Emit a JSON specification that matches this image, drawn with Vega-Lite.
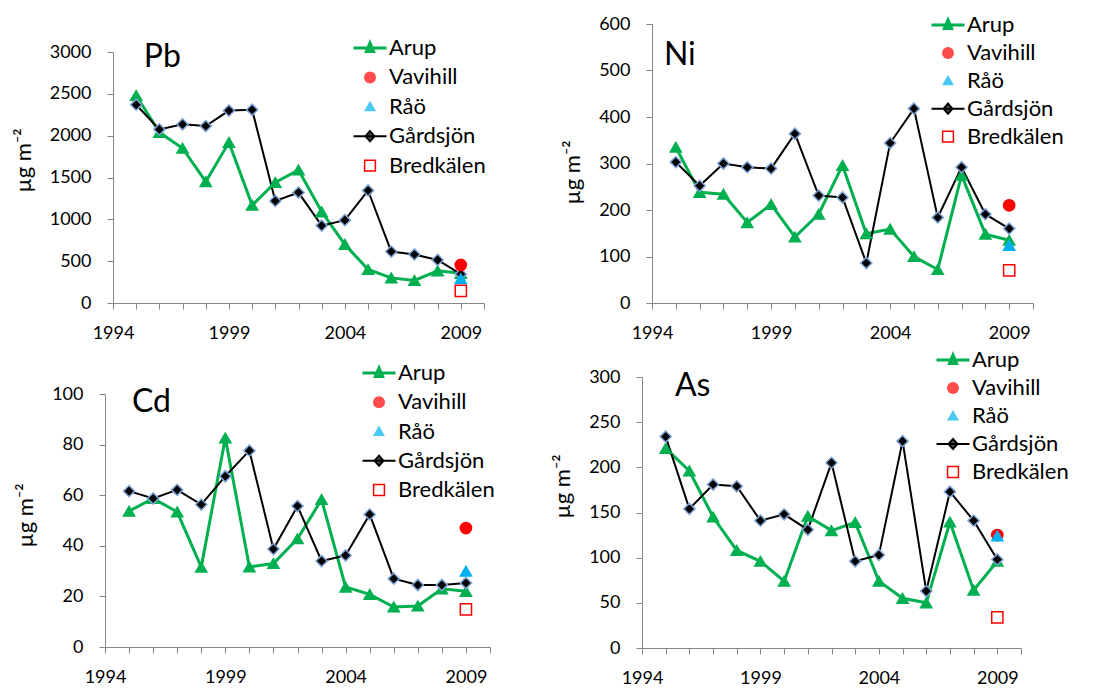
{
  "$schema": "https://vega.github.io/schema/vega-lite/v6.json",
  "padding": {"left": 12, "top": 14, "right": 5, "bottom": 5},
  "background": "white",
  "datasets": {
    "Pb": [
      {"site": "Arup", "year": 1995, "value": 2480}, {"site": "Arup", "year": 1996, "value": 2040}, {"site": "Arup", "year": 1997, "value": 1850}, {"site": "Arup", "year": 1998, "value": 1450}, {"site": "Arup", "year": 1999, "value": 1920}, {"site": "Arup", "year": 2000, "value": 1170}, {"site": "Arup", "year": 2001, "value": 1440}, {"site": "Arup", "year": 2002, "value": 1590}, {"site": "Arup", "year": 2003, "value": 1090}, {"site": "Arup", "year": 2004, "value": 700}, {"site": "Arup", "year": 2005, "value": 400}, {"site": "Arup", "year": 2006, "value": 300}, {"site": "Arup", "year": 2007, "value": 270}, {"site": "Arup", "year": 2008, "value": 385}, {"site": "Arup", "year": 2009, "value": 355},
      {"site": "Gårdsjön", "year": 1995, "value": 2370}, {"site": "Gårdsjön", "year": 1996, "value": 2075}, {"site": "Gårdsjön", "year": 1997, "value": 2135}, {"site": "Gårdsjön", "year": 1998, "value": 2115}, {"site": "Gårdsjön", "year": 1999, "value": 2300}, {"site": "Gårdsjön", "year": 2000, "value": 2310}, {"site": "Gårdsjön", "year": 2001, "value": 1220}, {"site": "Gårdsjön", "year": 2002, "value": 1320}, {"site": "Gårdsjön", "year": 2003, "value": 925}, {"site": "Gårdsjön", "year": 2004, "value": 990}, {"site": "Gårdsjön", "year": 2005, "value": 1345}, {"site": "Gårdsjön", "year": 2006, "value": 615}, {"site": "Gårdsjön", "year": 2007, "value": 580}, {"site": "Gårdsjön", "year": 2008, "value": 515}, {"site": "Gårdsjön", "year": 2009, "value": 345},
      {"site": "Vavihill", "year": 2009, "value": 455}, {"site": "Råö", "year": 2009, "value": 290}, {"site": "Bredkälen", "year": 2009, "value": 145}
    ],
    "Ni": [
      {"site": "Arup", "year": 1995, "value": 335}, {"site": "Arup", "year": 1996, "value": 238}, {"site": "Arup", "year": 1997, "value": 234}, {"site": "Arup", "year": 1998, "value": 173}, {"site": "Arup", "year": 1999, "value": 212}, {"site": "Arup", "year": 2000, "value": 142}, {"site": "Arup", "year": 2001, "value": 191}, {"site": "Arup", "year": 2002, "value": 296}, {"site": "Arup", "year": 2003, "value": 149}, {"site": "Arup", "year": 2004, "value": 159}, {"site": "Arup", "year": 2005, "value": 100}, {"site": "Arup", "year": 2006, "value": 72}, {"site": "Arup", "year": 2007, "value": 275}, {"site": "Arup", "year": 2008, "value": 148}, {"site": "Arup", "year": 2009, "value": 135},
      {"site": "Gårdsjön", "year": 1995, "value": 303}, {"site": "Gårdsjön", "year": 1996, "value": 252}, {"site": "Gårdsjön", "year": 1997, "value": 300}, {"site": "Gårdsjön", "year": 1998, "value": 292}, {"site": "Gårdsjön", "year": 1999, "value": 289}, {"site": "Gårdsjön", "year": 2000, "value": 364}, {"site": "Gårdsjön", "year": 2001, "value": 231}, {"site": "Gårdsjön", "year": 2002, "value": 227}, {"site": "Gårdsjön", "year": 2003, "value": 86}, {"site": "Gårdsjön", "year": 2004, "value": 344}, {"site": "Gårdsjön", "year": 2005, "value": 418}, {"site": "Gårdsjön", "year": 2006, "value": 184}, {"site": "Gårdsjön", "year": 2007, "value": 292}, {"site": "Gårdsjön", "year": 2008, "value": 191}, {"site": "Gårdsjön", "year": 2009, "value": 160},
      {"site": "Vavihill", "year": 2009, "value": 210}, {"site": "Råö", "year": 2009, "value": 124}, {"site": "Bredkälen", "year": 2009, "value": 70}
    ],
    "Cd": [
      {"site": "Arup", "year": 1995, "value": 53.7}, {"site": "Arup", "year": 1996, "value": 58.7}, {"site": "Arup", "year": 1997, "value": 53.4}, {"site": "Arup", "year": 1998, "value": 31.6}, {"site": "Arup", "year": 1999, "value": 82.6}, {"site": "Arup", "year": 2000, "value": 31.7}, {"site": "Arup", "year": 2001, "value": 33.0}, {"site": "Arup", "year": 2002, "value": 42.8}, {"site": "Arup", "year": 2003, "value": 58.3}, {"site": "Arup", "year": 2004, "value": 23.7}, {"site": "Arup", "year": 2005, "value": 20.8}, {"site": "Arup", "year": 2006, "value": 15.8}, {"site": "Arup", "year": 2007, "value": 16.2}, {"site": "Arup", "year": 2008, "value": 23.0}, {"site": "Arup", "year": 2009, "value": 22.0},
      {"site": "Gårdsjön", "year": 1995, "value": 61.6}, {"site": "Gårdsjön", "year": 1996, "value": 58.7}, {"site": "Gårdsjön", "year": 1997, "value": 62.1}, {"site": "Gårdsjön", "year": 1998, "value": 56.3}, {"site": "Gårdsjön", "year": 1999, "value": 67.5}, {"site": "Gårdsjön", "year": 2000, "value": 77.6}, {"site": "Gårdsjön", "year": 2001, "value": 38.7}, {"site": "Gårdsjön", "year": 2002, "value": 55.7}, {"site": "Gårdsjön", "year": 2003, "value": 34.0}, {"site": "Gårdsjön", "year": 2004, "value": 36.2}, {"site": "Gårdsjön", "year": 2005, "value": 52.4}, {"site": "Gårdsjön", "year": 2006, "value": 27.0}, {"site": "Gårdsjön", "year": 2007, "value": 24.5}, {"site": "Gårdsjön", "year": 2008, "value": 24.5}, {"site": "Gårdsjön", "year": 2009, "value": 25.3},
      {"site": "Vavihill", "year": 2009, "value": 47.0}, {"site": "Råö", "year": 2009, "value": 30.0}, {"site": "Bredkälen", "year": 2009, "value": 14.9}
    ],
    "As": [
      {"site": "Arup", "year": 1995, "value": 221}, {"site": "Arup", "year": 1996, "value": 196}, {"site": "Arup", "year": 1997, "value": 145}, {"site": "Arup", "year": 1998, "value": 108}, {"site": "Arup", "year": 1999, "value": 96}, {"site": "Arup", "year": 2000, "value": 74}, {"site": "Arup", "year": 2001, "value": 146}, {"site": "Arup", "year": 2002, "value": 130}, {"site": "Arup", "year": 2003, "value": 139}, {"site": "Arup", "year": 2004, "value": 74}, {"site": "Arup", "year": 2005, "value": 55}, {"site": "Arup", "year": 2006, "value": 50}, {"site": "Arup", "year": 2007, "value": 139.5}, {"site": "Arup", "year": 2008, "value": 64}, {"site": "Arup", "year": 2009, "value": 96},
      {"site": "Gårdsjön", "year": 1995, "value": 234}, {"site": "Gårdsjön", "year": 1996, "value": 154}, {"site": "Gårdsjön", "year": 1997, "value": 181}, {"site": "Gårdsjön", "year": 1998, "value": 179}, {"site": "Gårdsjön", "year": 1999, "value": 141}, {"site": "Gårdsjön", "year": 2000, "value": 148}, {"site": "Gårdsjön", "year": 2001, "value": 131}, {"site": "Gårdsjön", "year": 2002, "value": 205}, {"site": "Gårdsjön", "year": 2003, "value": 96}, {"site": "Gårdsjön", "year": 2004, "value": 103}, {"site": "Gårdsjön", "year": 2005, "value": 229}, {"site": "Gårdsjön", "year": 2006, "value": 63}, {"site": "Gårdsjön", "year": 2007, "value": 173}, {"site": "Gårdsjön", "year": 2008, "value": 141}, {"site": "Gårdsjön", "year": 2009, "value": 98},
      {"site": "Vavihill", "year": 2009, "value": 125}, {"site": "Råö", "year": 2009, "value": 124}, {"site": "Bredkälen", "year": 2009, "value": 34}
    ]
  },
  "columns": 2,
  "align": "each",
  "bounds": "flush",
  "spacing": {"row": 74, "column": 152},
  "resolve": {
    "scale": {"color": "independent", "fill": "independent", "stroke": "independent", "shape": "independent", "strokeWidth": "independent", "opacity": "independent"},
    "legend": {"color": "independent", "fill": "independent", "stroke": "independent", "shape": "independent", "strokeWidth": "independent", "opacity": "independent"}
  },
  "concat": [
    {
      "width": 385, "height": 279,
      "data": {"name": "Pb"},
      "layer": [
        {
          "mark": {"type": "line"},
          "transform": [{"filter": "datum.site === 'Arup' || datum.site === 'Gårdsjön'"}],
          "encoding": {
            "x": {"field": "year", "type": "quantitative", "scale": {"domain": [1994, 2010], "nice": false, "zero": false, "range": [8, 379]}, "axis": {"values": [1994,1995,1996,1997,1998,1999,2000,2001,2002,2003,2004,2005,2006,2007,2008,2009,2010], "tickCount": 30, "labelExpr": "(datum.value - 1994) % 5 === 0 ? '' + datum.value : ''", "title": null, "labelOverlap": false, "labelFlush": false}},
            "y": {"field": "value", "type": "quantitative", "scale": {"domain": [0, 3000], "nice": false, "range": [279, 28]}, "axis": {"values": [0,500,1000,1500,2000,2500,3000], "tickCount": 20, "format": "d", "labelOverlap": false, "labelFlush": false, "title": "µg m⁻²", "offset": -8, "titleY": 136}},
            "color": {"field": "site", "type": "nominal", "scale": {"domain": ["Arup", "Gårdsjön"], "range": ["#00b050", "#000000"]}, "legend": null},
            "strokeWidth": {"field": "site", "type": "nominal", "scale": {"domain": ["Arup", "Gårdsjön"], "range": [3, 2]}, "legend": null}
          }
        },
        {
          "mark": {"type": "point", "filled": true, "strokeWidth": 1.5, "size": 125},
          "encoding": {
            "x": {"field": "year", "type": "quantitative"},
            "y": {"field": "value", "type": "quantitative"},
            "fill": {"field": "site", "type": "nominal", "scale": {"domain": ["Bredkälen", "Gårdsjön", "Råö", "Vavihill", "Arup"], "range": ["transparent", "#000000", "#00b0f0", "#ff0000", "#00b050"]}, "legend": null},
            "shape": {"field": "site", "type": "nominal", "scale": {"domain": ["Bredkälen", "Gårdsjön", "Råö", "Vavihill", "Arup"], "range": ["square", "diamond", "triangle-up", "circle", "triangle-up"]}, "legend": null},
            "stroke": {"field": "site", "type": "nominal", "scale": {"domain": ["Bredkälen", "Gårdsjön", "Råö", "Vavihill", "Arup"], "range": ["#ff0000", "#7fa3d6", "#00b0f0", "#ff0000", "#00b050"]}, "legend": null},
            "opacity": {"field": "site", "type": "nominal", "scale": {"domain": ["Arup", "Vavihill", "Råö", "Gårdsjön", "Bredkälen"], "range": [1, 1, 1, 1, 1]},
              "legend": {"title": null, "orient": "none", "legendX": 254, "legendY": 13, "rowPadding": 7.4,
                "encoding": {"symbols": {
                  "shape": {"value": {"expr": "datum.value === 'Arup' ? 'M-2.75,0L2.75,0M0,-0.85L0.6,0.6L-0.6,0.6Z' : datum.value === 'Vavihill' ? 'circle' : datum.value === 'Råö' ? 'M0,-1L1,0.75L-1,0.75Z' : datum.value === 'Gårdsjön' ? 'M-2.75,0L2.75,0M0,-0.85L0.75,0L0,0.85L-0.75,0Z' : 'M-0.9,-0.9L0.9,-0.9L0.9,0.9L-0.9,0.9Z'"}},
                  "fill": {"value": {"expr": "datum.value === 'Arup' ? '#00b050' : datum.value === 'Vavihill' ? '#ff0000' : datum.value === 'Råö' ? '#00b0f0' : datum.value === 'Gårdsjön' ? '#000000' : 'transparent'"}},
                  "stroke": {"value": {"expr": "datum.value === 'Arup' ? '#00b050' : datum.value === 'Gårdsjön' ? '#000000' : datum.value === 'Bredkälen' ? '#ff0000' : 'transparent'"}},
                  "strokeWidth": {"value": {"expr": "datum.value === 'Arup' ? 3 : datum.value === 'Gårdsjön' ? 2 : datum.value === 'Bredkälen' ? 1.5 : 0"}},
                  "size": {"value": 144}
                }}}}
          }
        },
        {
          "data": {"values": [{}]},
          "mark": {"type": "text", "align": "left", "baseline": "alphabetic", "fontSize": 32, "color": "#000000"},
          "encoding": {"x": {"datum": 1995.33, "type": "quantitative"}, "y": {"datum": 2820, "type": "quantitative"}, "text": {"value": "Pb"}}
        }
      ]
    },
    {
      "width": 391, "height": 279,
      "data": {"name": "Ni"},
      "layer": [
        {
          "mark": {"type": "line"},
          "transform": [{"filter": "datum.site === 'Arup' || datum.site === 'Gårdsjön'"}],
          "encoding": {
            "x": {"field": "year", "type": "quantitative", "scale": {"domain": [1994, 2010], "nice": false, "zero": false, "range": [10, 391]}, "axis": {"values": [1994,1995,1996,1997,1998,1999,2000,2001,2002,2003,2004,2005,2006,2007,2008,2009,2010], "tickCount": 30, "labelExpr": "(datum.value - 1994) % 5 === 0 ? '' + datum.value : ''", "title": null, "labelOverlap": false, "labelFlush": false}},
            "y": {"field": "value", "type": "quantitative", "scale": {"domain": [0, 600], "nice": false}, "axis": {"values": [0,100,200,300,400,500,600], "tickCount": 20, "format": "d", "labelOverlap": false, "labelFlush": false, "title": "µg m⁻²", "offset": -10, "titleY": 148}},
            "color": {"field": "site", "type": "nominal", "scale": {"domain": ["Arup", "Gårdsjön"], "range": ["#00b050", "#000000"]}, "legend": null},
            "strokeWidth": {"field": "site", "type": "nominal", "scale": {"domain": ["Arup", "Gårdsjön"], "range": [3, 2]}, "legend": null}
          }
        },
        {
          "mark": {"type": "point", "filled": true, "strokeWidth": 1.5, "size": 125},
          "encoding": {
            "x": {"field": "year", "type": "quantitative"},
            "y": {"field": "value", "type": "quantitative"},
            "fill": {"field": "site", "type": "nominal", "scale": {"domain": ["Bredkälen", "Gårdsjön", "Råö", "Vavihill", "Arup"], "range": ["transparent", "#000000", "#00b0f0", "#ff0000", "#00b050"]}, "legend": null},
            "shape": {"field": "site", "type": "nominal", "scale": {"domain": ["Bredkälen", "Gårdsjön", "Råö", "Vavihill", "Arup"], "range": ["square", "diamond", "triangle-up", "circle", "triangle-up"]}, "legend": null},
            "stroke": {"field": "site", "type": "nominal", "scale": {"domain": ["Bredkälen", "Gårdsjön", "Råö", "Vavihill", "Arup"], "range": ["#ff0000", "#7fa3d6", "#00b0f0", "#ff0000", "#00b050"]}, "legend": null},
            "opacity": {"field": "site", "type": "nominal", "scale": {"domain": ["Arup", "Vavihill", "Råö", "Gårdsjön", "Bredkälen"], "range": [1, 1, 1, 1, 1]},
              "legend": {"title": null, "orient": "none", "legendX": 295, "legendY": -10, "rowPadding": 5.9,
                "encoding": {"symbols": {
                  "shape": {"value": {"expr": "datum.value === 'Arup' ? 'M-2.75,0L2.75,0M0,-0.85L0.6,0.6L-0.6,0.6Z' : datum.value === 'Vavihill' ? 'circle' : datum.value === 'Råö' ? 'M0,-1L1,0.75L-1,0.75Z' : datum.value === 'Gårdsjön' ? 'M-2.75,0L2.75,0M0,-0.85L0.75,0L0,0.85L-0.75,0Z' : 'M-0.9,-0.9L0.9,-0.9L0.9,0.9L-0.9,0.9Z'"}},
                  "fill": {"value": {"expr": "datum.value === 'Arup' ? '#00b050' : datum.value === 'Vavihill' ? '#ff0000' : datum.value === 'Råö' ? '#00b0f0' : datum.value === 'Gårdsjön' ? '#000000' : 'transparent'"}},
                  "stroke": {"value": {"expr": "datum.value === 'Arup' ? '#00b050' : datum.value === 'Gårdsjön' ? '#000000' : datum.value === 'Bredkälen' ? '#ff0000' : 'transparent'"}},
                  "strokeWidth": {"value": {"expr": "datum.value === 'Arup' ? 3 : datum.value === 'Gårdsjön' ? 2 : datum.value === 'Bredkälen' ? 1.5 : 0"}},
                  "size": {"value": 144}
                }}}}
          }
        },
        {
          "data": {"values": [{}]},
          "mark": {"type": "text", "align": "left", "baseline": "alphabetic", "fontSize": 32, "color": "#000000"},
          "encoding": {"x": {"datum": 1994.5, "type": "quantitative"}, "y": {"datum": 512, "type": "quantitative"}, "text": {"value": "Ni"}}
        }
      ]
    },
    {
      "width": 385, "height": 270,
      "data": {"name": "Cd"},
      "layer": [
        {
          "mark": {"type": "line"},
          "transform": [{"filter": "datum.site === 'Arup' || datum.site === 'Gårdsjön'"}],
          "encoding": {
            "x": {"field": "year", "type": "quantitative", "scale": {"domain": [1994, 2010], "nice": false, "zero": false}, "axis": {"values": [1994,1995,1996,1997,1998,1999,2000,2001,2002,2003,2004,2005,2006,2007,2008,2009,2010], "tickCount": 30, "labelExpr": "(datum.value - 1994) % 5 === 0 ? '' + datum.value : ''", "title": null, "labelOverlap": false, "labelFlush": false}},
            "y": {"field": "value", "type": "quantitative", "scale": {"domain": [0, 100], "nice": false, "range": [270, 17]}, "axis": {"values": [0,20,40,60,80,100], "tickCount": 20, "format": "d", "labelOverlap": false, "labelFlush": false, "title": "µg m⁻²", "titleY": 138}},
            "color": {"field": "site", "type": "nominal", "scale": {"domain": ["Arup", "Gårdsjön"], "range": ["#00b050", "#000000"]}, "legend": null},
            "strokeWidth": {"field": "site", "type": "nominal", "scale": {"domain": ["Arup", "Gårdsjön"], "range": [3, 2]}, "legend": null}
          }
        },
        {
          "mark": {"type": "point", "filled": true, "strokeWidth": 1.5, "size": 125},
          "encoding": {
            "x": {"field": "year", "type": "quantitative"},
            "y": {"field": "value", "type": "quantitative"},
            "fill": {"field": "site", "type": "nominal", "scale": {"domain": ["Bredkälen", "Gårdsjön", "Råö", "Vavihill", "Arup"], "range": ["transparent", "#000000", "#00b0f0", "#ff0000", "#00b050"]}, "legend": null},
            "shape": {"field": "site", "type": "nominal", "scale": {"domain": ["Bredkälen", "Gårdsjön", "Råö", "Vavihill", "Arup"], "range": ["square", "diamond", "triangle-up", "circle", "triangle-up"]}, "legend": null},
            "stroke": {"field": "site", "type": "nominal", "scale": {"domain": ["Bredkälen", "Gårdsjön", "Råö", "Vavihill", "Arup"], "range": ["#ff0000", "#7fa3d6", "#00b0f0", "#ff0000", "#00b050"]}, "legend": null},
            "opacity": {"field": "site", "type": "nominal", "scale": {"domain": ["Arup", "Vavihill", "Råö", "Gårdsjön", "Bredkälen"], "range": [1, 1, 1, 1, 1]},
              "legend": {"title": null, "orient": "none", "legendX": 263, "legendY": -15, "rowPadding": 7.25,
                "encoding": {"symbols": {
                  "shape": {"value": {"expr": "datum.value === 'Arup' ? 'M-2.75,0L2.75,0M0,-0.85L0.6,0.6L-0.6,0.6Z' : datum.value === 'Vavihill' ? 'circle' : datum.value === 'Råö' ? 'M0,-1L1,0.75L-1,0.75Z' : datum.value === 'Gårdsjön' ? 'M-2.75,0L2.75,0M0,-0.85L0.75,0L0,0.85L-0.75,0Z' : 'M-0.9,-0.9L0.9,-0.9L0.9,0.9L-0.9,0.9Z'"}},
                  "fill": {"value": {"expr": "datum.value === 'Arup' ? '#00b050' : datum.value === 'Vavihill' ? '#ff0000' : datum.value === 'Råö' ? '#00b0f0' : datum.value === 'Gårdsjön' ? '#000000' : 'transparent'"}},
                  "stroke": {"value": {"expr": "datum.value === 'Arup' ? '#00b050' : datum.value === 'Gårdsjön' ? '#000000' : datum.value === 'Bredkälen' ? '#ff0000' : 'transparent'"}},
                  "strokeWidth": {"value": {"expr": "datum.value === 'Arup' ? 3 : datum.value === 'Gårdsjön' ? 2 : datum.value === 'Bredkälen' ? 1.5 : 0"}},
                  "size": {"value": 144}
                }}}}
          }
        },
        {
          "data": {"values": [{}]},
          "mark": {"type": "text", "align": "left", "baseline": "alphabetic", "fontSize": 32, "color": "#000000"},
          "encoding": {"x": {"datum": 1995.12, "type": "quantitative"}, "y": {"datum": 92.9, "type": "quantitative"}, "text": {"value": "Cd"}}
        }
      ]
    },
    {
      "width": 379, "height": 271,
      "data": {"name": "As"},
      "layer": [
        {
          "mark": {"type": "line"},
          "transform": [{"filter": "datum.site === 'Arup' || datum.site === 'Gårdsjön'"}],
          "encoding": {
            "x": {"field": "year", "type": "quantitative", "scale": {"domain": [1994, 2010], "nice": false, "zero": false}, "axis": {"values": [1994,1995,1996,1997,1998,1999,2000,2001,2002,2003,2004,2005,2006,2007,2008,2009,2010], "tickCount": 30, "labelExpr": "(datum.value - 1994) % 5 === 0 ? '' + datum.value : ''", "title": null, "labelOverlap": false, "labelFlush": false}},
            "y": {"field": "value", "type": "quantitative", "scale": {"domain": [0, 300], "nice": false}, "axis": {"values": [0,50,100,150,200,250,300], "tickCount": 20, "format": "d", "labelOverlap": false, "labelFlush": false, "title": "µg m⁻²", "titleY": 109}},
            "color": {"field": "site", "type": "nominal", "scale": {"domain": ["Arup", "Gårdsjön"], "range": ["#00b050", "#000000"]}, "legend": null},
            "strokeWidth": {"field": "site", "type": "nominal", "scale": {"domain": ["Arup", "Gårdsjön"], "range": [3, 2]}, "legend": null}
          }
        },
        {
          "mark": {"type": "point", "filled": true, "strokeWidth": 1.5, "size": 125},
          "encoding": {
            "x": {"field": "year", "type": "quantitative"},
            "y": {"field": "value", "type": "quantitative"},
            "fill": {"field": "site", "type": "nominal", "scale": {"domain": ["Bredkälen", "Gårdsjön", "Råö", "Vavihill", "Arup"], "range": ["transparent", "#000000", "#00b0f0", "#ff0000", "#00b050"]}, "legend": null},
            "shape": {"field": "site", "type": "nominal", "scale": {"domain": ["Bredkälen", "Gårdsjön", "Råö", "Vavihill", "Arup"], "range": ["square", "diamond", "triangle-up", "circle", "triangle-up"]}, "legend": null},
            "stroke": {"field": "site", "type": "nominal", "scale": {"domain": ["Bredkälen", "Gårdsjön", "Råö", "Vavihill", "Arup"], "range": ["#ff0000", "#7fa3d6", "#00b0f0", "#ff0000", "#00b050"]}, "legend": null},
            "opacity": {"field": "site", "type": "nominal", "scale": {"domain": ["Arup", "Vavihill", "Råö", "Gårdsjön", "Bredkälen"], "range": [1, 1, 1, 1, 1]},
              "legend": {"title": null, "orient": "none", "legendX": 300, "legendY": -28, "rowPadding": 6,
                "encoding": {"symbols": {
                  "shape": {"value": {"expr": "datum.value === 'Arup' ? 'M-2.75,0L2.75,0M0,-0.85L0.6,0.6L-0.6,0.6Z' : datum.value === 'Vavihill' ? 'circle' : datum.value === 'Råö' ? 'M0,-1L1,0.75L-1,0.75Z' : datum.value === 'Gårdsjön' ? 'M-2.75,0L2.75,0M0,-0.85L0.75,0L0,0.85L-0.75,0Z' : 'M-0.9,-0.9L0.9,-0.9L0.9,0.9L-0.9,0.9Z'"}},
                  "fill": {"value": {"expr": "datum.value === 'Arup' ? '#00b050' : datum.value === 'Vavihill' ? '#ff0000' : datum.value === 'Råö' ? '#00b0f0' : datum.value === 'Gårdsjön' ? '#000000' : 'transparent'"}},
                  "stroke": {"value": {"expr": "datum.value === 'Arup' ? '#00b050' : datum.value === 'Gårdsjön' ? '#000000' : datum.value === 'Bredkälen' ? '#ff0000' : 'transparent'"}},
                  "strokeWidth": {"value": {"expr": "datum.value === 'Arup' ? 3 : datum.value === 'Gårdsjön' ? 2 : datum.value === 'Bredkälen' ? 1.5 : 0"}},
                  "size": {"value": 144}
                }}}}
          }
        },
        {
          "data": {"values": [{}]},
          "mark": {"type": "text", "align": "left", "baseline": "alphabetic", "fontSize": 32, "color": "#000000"},
          "encoding": {"x": {"datum": 1995.39, "type": "quantitative"}, "y": {"datum": 279, "type": "quantitative"}, "text": {"value": "As"}}
        }
      ]
    }
  ],
  "config": {
    "font": "Lato",
    "view": {"stroke": null},
    "axis": {"grid": false, "domainColor": "#868686", "tickColor": "#868686", "tickSize": 6, "labelFont": "Lato", "labelFontSize": 18, "labelColor": "#000000", "titleFont": "Lato", "titleFontSize": 22, "titleFontWeight": "normal", "titleColor": "#000000", "titlePadding": 14},
    "axisX": {"labelPadding": 15},
    "axisY": {"labelPadding": 16},
    "legend": {"labelFont": "Lato", "labelFontSize": 22, "labelColor": "#000000", "labelOffset": 8, "symbolSize": 144, "padding": 0}
  }
}
